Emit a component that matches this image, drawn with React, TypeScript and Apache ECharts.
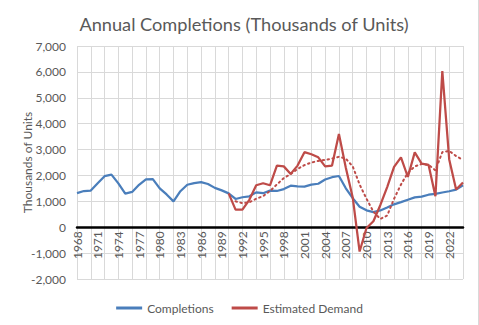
import React, { useEffect, useRef } from "react";
import * as echarts from "echarts";

const years = [
  "1968","1969","1970","1971","1972","1973","1974","1975","1976","1977",
  "1978","1979","1980","1981","1982","1983","1984","1985","1986","1987",
  "1988","1989","1990","1991","1992","1993","1994","1995","1996","1997",
  "1998","1999","2000","2001","2002","2003","2004","2005","2006","2007",
  "2008","2009","2010","2011","2012","2013","2014","2015","2016","2017",
  "2018","2019","2020","2021","2022","2023","2024",
];

const completions = [
  1320, 1399, 1418, 1700, 1972, 2030, 1692, 1297, 1362, 1640,
  1850, 1860, 1502, 1266, 1000, 1390, 1640, 1703, 1740, 1669,
  1520, 1423, 1308, 1091, 1158, 1193, 1347, 1313, 1413, 1400,
  1474, 1605, 1574, 1571, 1648, 1679, 1842, 1932, 1979, 1503,
  1120, 794, 652, 585, 649, 764, 884, 968, 1060, 1152,
  1185, 1255, 1288, 1341, 1390, 1452, 1620,
];

const demandYears = [
  "1990","1991","1992","1993","1994","1995","1996","1997","1998","1999",
  "2000","2001","2002","2003","2004","2005","2006","2007","2008","2009",
  "2010","2011","2012","2013","2014","2015","2016","2017","2018","2019",
  "2020","2021","2022","2023","2024",
];
const demand = [
  1308, 680, 680, 1060, 1620, 1700, 1620, 2380, 2350, 2060,
  2380, 2900, 2820, 2700, 2350, 2380, 3600, 2300, 1150, -940,
  -30, 230, 850, 1550, 2330, 2700, 1940, 2890, 2460, 2410,
  1200, 6030, 2620, 1460, 1730,
];

const trendYears = [
  "1991","1992","1993","1994","1995","1996","1997","1998","1999","2000",
  "2001","2002","2003","2004","2005","2006","2007","2008","2009","2010",
  "2011","2012","2013","2014","2015","2016","2017","2018","2019","2020",
  "2021","2022","2023","2024",
];
const trend = [
  1000, 930, 960, 1100, 1200, 1400, 1650, 1900, 2050, 2250,
  2400, 2500, 2560, 2600, 2650, 2720, 2650, 2350, 1650, 1100,
  600, 320, 450, 1100, 1650, 2100, 2350, 2440, 2410, 2200,
  2900, 2950, 2750, 2600,
];

const yTicks = { min: -2000, max: 7000, interval: 1000 };

const FONT = "Lato, 'Open Sans', sans-serif";
const TXT = "#595959";
const BLUE = "#4a7ebb";
const RED = "#be4b48";

const GRID_TOP = 46;
const GRID_BOTTOM = 46;
const CHART_H = 325;

export default function App() {
  const ref = useRef<HTMLDivElement>(null);
  useEffect(() => {
    if (!ref.current) return;
    const chart = echarts.init(ref.current, undefined, { renderer: "svg" });
    const plotH = CHART_H - GRID_TOP - GRID_BOTTOM;
    const zeroOffset =
      -(plotH * (0 - yTicks.min)) / (yTicks.max - yTicks.min);
    chart.setOption({
      animation: false,
      backgroundColor: "#ffffff",
      textStyle: { fontFamily: FONT },
      title: {
        text: "Annual Completions (Thousands of Units)",
        left: 239,
        textAlign: "center",
        top: 10,
        textStyle: { fontFamily: FONT, fontSize: 18.2, fontWeight: "normal", color: TXT },
      },
      grid: { left: 77, right: 16, top: GRID_TOP, bottom: GRID_BOTTOM, containLabel: false },
      legend: {
        data: ["Completions", "Estimated Demand"],
        top: 297,
        left: "center",
        icon: "rect",
        itemWidth: 26,
        itemHeight: 3,
        itemGap: 18,
        textStyle: { fontFamily: FONT, fontSize: 12, color: TXT },
      },
      xAxis: {
        type: "category",
        data: years,
        boundaryGap: false,
        position: "bottom",
        offset: zeroOffset,
        axisLine: { onZero: false, lineStyle: { color: "#000000", width: 2.5 } },
        axisTick: { show: false },
        axisLabel: {
          rotate: 90,
          interval: 2,
          color: TXT,
          fontSize: 12,
          fontFamily: FONT,
          margin: 4,
        },
        splitLine: { show: true, interval: 1, lineStyle: { color: "#d9d9d9", width: 1 } },
      },
      yAxis: {
        type: "value",
        min: yTicks.min,
        max: yTicks.max,
        interval: yTicks.interval,
        name: "Thousands of Units",
        nameLocation: "middle",
        nameGap: 44,
        nameMoveOverlap: false,
        nameTextStyle: { fontFamily: FONT, fontSize: 12, color: TXT },
        axisLine: { show: false },
        axisTick: { show: false },
        axisLabel: {
          color: TXT,
          fontSize: 12,
          fontFamily: FONT,
          margin: 11,
          formatter: (v: number) => v.toLocaleString("en-US"),
        },
        splitLine: { lineStyle: { color: "#d9d9d9", width: 1 } },
      },
      series: [
        {
          name: "Completions",
          type: "line",
          data: completions,
          showSymbol: false,
          lineStyle: { color: BLUE, width: 2.25 },
          itemStyle: { color: BLUE },
          z: 2,
        },
        {
          name: "Estimated Demand",
          type: "line",
          data: demandYears.map((y, i) => [y, demand[i]]),
          showSymbol: false,
          lineStyle: { color: RED, width: 2.25 },
          itemStyle: { color: RED },
          z: 3,
        },
        {
          name: "Trend",
          type: "line",
          data: trendYears.map((y, i) => [y, trend[i]]),
          showSymbol: false,
          lineStyle: { color: RED, width: 2, type: [1.5, 3.5], cap: "round" },
          itemStyle: { color: RED },
          z: 4,
        },
      ],
      graphic: [
        {
          type: "line",
          shape: { x1: 478.5, y1: 0, x2: 478.5, y2: 325 },
          style: { stroke: "#d9d9d9", lineWidth: 1 },
        },
      ],
    });
    return () => chart.dispose();
  }, []);
  return (
    <div
      ref={ref}
      style={{ position: "fixed", left: 0, top: 0, width: 479, height: 325 }}
    />
  );
}
